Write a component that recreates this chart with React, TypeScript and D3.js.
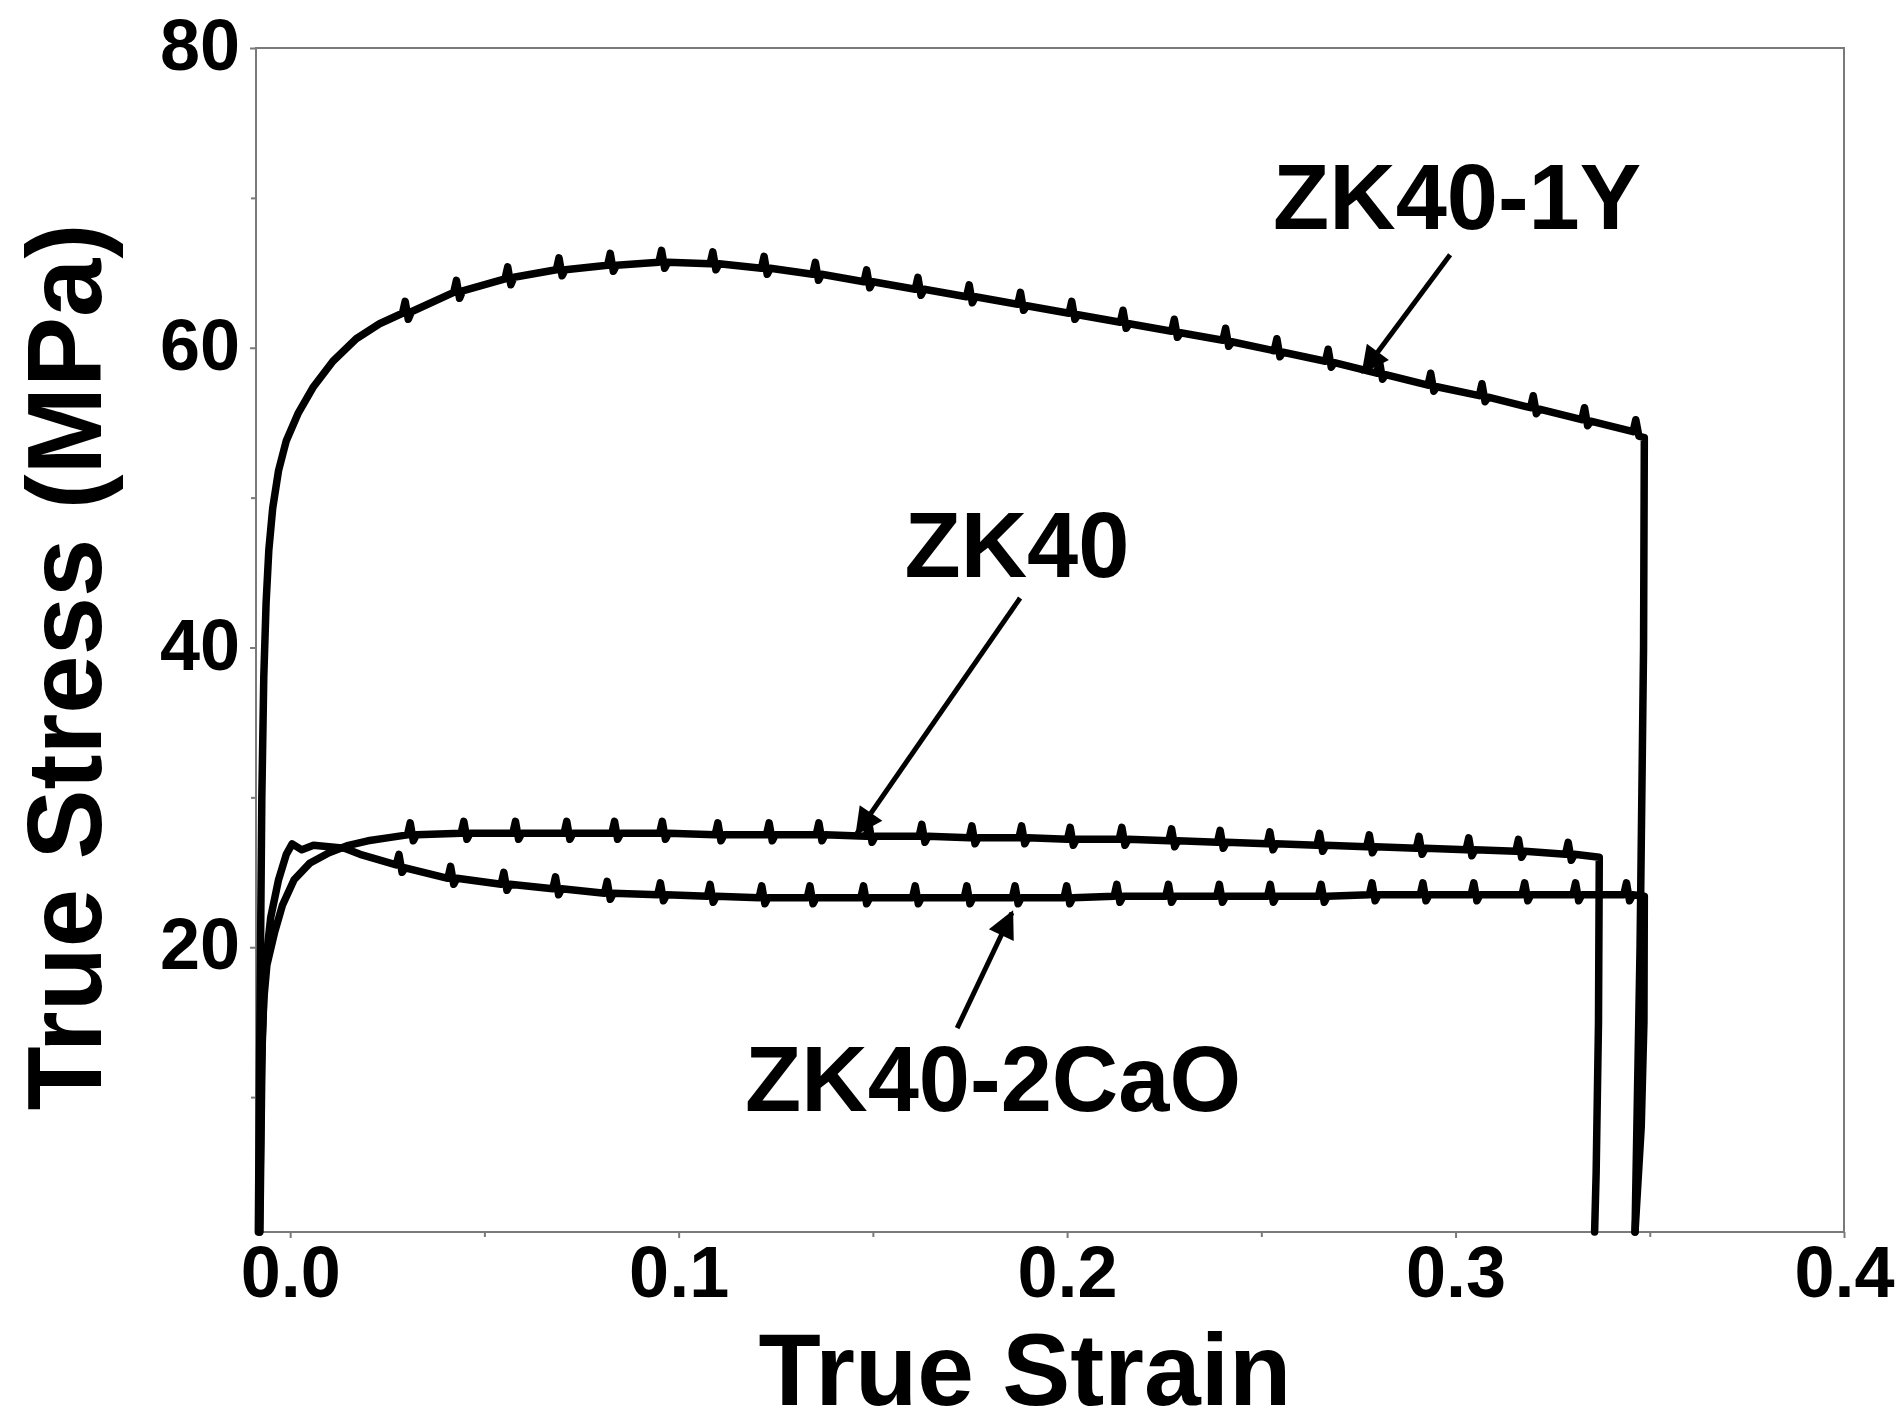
import React from 'react';
import * as d3 from 'd3';

// tick values
const xTicks = [0, 0.1, 0.2, 0.3, 0.4];
const xMinor = [0.05, 0.15, 0.25, 0.35];
const yTicks = [20, 40, 60, 80];
const yMinor = [10, 30, 50, 70];

// [true strain, true stress MPa] (serrations included)
const zk40_1Y = [
  [-0.0082, 1], [-0.0078, 15], [-0.0073, 30], [-0.0068, 38], [-0.0062, 43], [-0.0055, 46.5],
  [-0.0045, 49.3], [-0.003, 51.8], [-0.001, 53.8], [0.002, 55.6], [0.006, 57.4], [0.011, 59.1],
  [0.017, 60.6], [0.023, 61.6],
  [0.0289, 62.3], [0.0296, 63.1], [0.0304, 61.9], [0.0312, 62.4],
  [0.0421, 63.7], [0.0428, 64.5], [0.0436, 63.3], [0.0444, 63.8],
  [0.0553, 64.6], [0.056, 65.4], [0.0568, 64.2], [0.0576, 64.7],
  [0.0685, 65.2], [0.0692, 66.0], [0.07, 64.8], [0.0708, 65.2],
  [0.0817, 65.5], [0.0824, 66.3], [0.0832, 65.1], [0.084, 65.5],
  [0.0949, 65.7], [0.0956, 66.5], [0.0964, 65.3], [0.0972, 65.7],
  [0.1081, 65.6], [0.1088, 66.4], [0.1096, 65.2], [0.1104, 65.6],
  [0.1213, 65.3], [0.122, 66.1], [0.1228, 64.9], [0.1236, 65.3],
  [0.1345, 64.9], [0.1352, 65.7], [0.136, 64.5], [0.1368, 64.9],
  [0.1477, 64.4], [0.1484, 65.2], [0.1492, 64.0], [0.15, 64.4],
  [0.1609, 63.9], [0.1616, 64.7], [0.1624, 63.5], [0.1632, 63.9],
  [0.1741, 63.4], [0.1748, 64.2], [0.1756, 63.0], [0.1764, 63.4],
  [0.1873, 62.9], [0.188, 63.7], [0.1888, 62.5], [0.1896, 62.8],
  [0.2005, 62.3], [0.2012, 63.1], [0.202, 61.9], [0.2028, 62.2],
  [0.2137, 61.7], [0.2144, 62.5], [0.2152, 61.3], [0.216, 61.6],
  [0.2269, 61.1], [0.2276, 61.9], [0.2284, 60.7], [0.2292, 61.0],
  [0.2401, 60.5], [0.2408, 61.3], [0.2416, 60.1], [0.2424, 60.4],
  [0.2533, 59.8], [0.254, 60.6], [0.2548, 59.4], [0.2556, 59.7],
  [0.2665, 59.1], [0.2672, 59.9], [0.268, 58.7], [0.2688, 59.0],
  [0.2797, 58.3], [0.2804, 59.1], [0.2812, 57.9], [0.282, 58.2],
  [0.2929, 57.5], [0.2936, 58.3], [0.2944, 57.1], [0.2952, 57.4],
  [0.3061, 56.8], [0.3068, 57.6], [0.3076, 56.4], [0.3084, 56.7],
  [0.3193, 56.0], [0.32, 56.8], [0.3208, 55.6], [0.3216, 55.9],
  [0.3325, 55.2], [0.3332, 56.0], [0.334, 54.8], [0.3348, 55.1],
  [0.3457, 54.4], [0.3464, 55.2], [0.3472, 54.1], [0.3486, 54.0],
  [0.3484, 40], [0.3475, 20], [0.3462, 1],
];

const zk40 = [
  [-0.0079, 1], [-0.0074, 12], [-0.0068, 16.5], [-0.006, 18.8], [-0.004, 21], [-0.002, 22.8],
  [0.001, 24.5], [0.005, 25.6], [0.01, 26.3], [0.015, 26.8], [0.02, 27.1], [0.025, 27.3],
  [0.0302, 27.5], [0.0309, 28.3], [0.0317, 27.1], [0.0325, 27.5],
  [0.044, 27.6], [0.0447, 28.4], [0.0455, 27.2], [0.0463, 27.6],
  [0.0573, 27.6], [0.058, 28.4], [0.0588, 27.2], [0.0596, 27.6],
  [0.0705, 27.6], [0.0712, 28.4], [0.072, 27.2], [0.0728, 27.6],
  [0.0828, 27.6], [0.0835, 28.4], [0.0843, 27.2], [0.0851, 27.6],
  [0.0951, 27.6], [0.0958, 28.4], [0.0966, 27.2], [0.0974, 27.6],
  [0.1094, 27.5], [0.1101, 28.3], [0.1109, 27.1], [0.1117, 27.5],
  [0.1226, 27.5], [0.1233, 28.3], [0.1241, 27.1], [0.1249, 27.5],
  [0.1354, 27.5], [0.1361, 28.3], [0.1369, 27.1], [0.1377, 27.5],
  [0.1483, 27.4], [0.149, 28.2], [0.1498, 27.0], [0.1506, 27.4],
  [0.1619, 27.4], [0.1626, 28.2], [0.1634, 27.0], [0.1642, 27.4],
  [0.1748, 27.3], [0.1755, 28.1], [0.1763, 26.9], [0.1771, 27.3],
  [0.1876, 27.3], [0.1883, 28.1], [0.1891, 26.9], [0.1899, 27.3],
  [0.2001, 27.2], [0.2008, 28.0], [0.2016, 26.8], [0.2024, 27.2],
  [0.2134, 27.2], [0.2141, 28.0], [0.2149, 26.8], [0.2157, 27.2],
  [0.2262, 27.1], [0.2269, 27.9], [0.2277, 26.7], [0.2285, 27.1],
  [0.2387, 27.0], [0.2394, 27.8], [0.2402, 26.6], [0.241, 27.0],
  [0.2515, 26.9], [0.2522, 27.7], [0.253, 26.5], [0.2538, 26.9],
  [0.2643, 26.8], [0.265, 27.6], [0.2658, 26.4], [0.2666, 26.8],
  [0.2771, 26.7], [0.2778, 27.5], [0.2786, 26.3], [0.2794, 26.7],
  [0.2899, 26.6], [0.2906, 27.4], [0.2914, 26.2], [0.2922, 26.6],
  [0.3027, 26.5], [0.3034, 27.3], [0.3042, 26.1], [0.305, 26.5],
  [0.3155, 26.4], [0.3162, 27.2], [0.317, 26.0], [0.3178, 26.4],
  [0.3283, 26.2], [0.329, 27.0], [0.3298, 25.8], [0.3306, 26.2],
  [0.337, 26.0], [0.3368, 15], [0.3362, 5], [0.3358, 1],
];

const zk40_2CaO = [
  [-0.0078, 1], [-0.0072, 14], [-0.0065, 18.5], [-0.005, 22], [-0.003, 24.5], [-0.001, 26.2],
  [0.0005, 26.9], [0.003, 26.5], [0.006, 26.8], [0.01, 26.7], [0.014, 26.6], [0.018, 26.2],
  [0.022, 25.9],
  [0.0273, 25.5], [0.028, 26.2], [0.0288, 25.0], [0.0296, 25.3],
  [0.0406, 24.6], [0.0413, 25.4], [0.0421, 24.2], [0.0429, 24.6],
  [0.0543, 24.2], [0.055, 25.0], [0.0558, 23.8], [0.0566, 24.2],
  [0.0676, 23.9], [0.0683, 24.7], [0.0691, 23.5], [0.0699, 23.9],
  [0.0809, 23.6], [0.0816, 24.4], [0.0824, 23.2], [0.0832, 23.6],
  [0.0946, 23.5], [0.0953, 24.3], [0.0961, 23.1], [0.0969, 23.5],
  [0.1074, 23.4], [0.1081, 24.2], [0.1089, 23.0], [0.1097, 23.4],
  [0.1207, 23.3], [0.1214, 24.1], [0.1222, 22.9], [0.123, 23.3],
  [0.1331, 23.3], [0.1338, 24.1], [0.1346, 22.9], [0.1354, 23.3],
  [0.1469, 23.3], [0.1476, 24.1], [0.1484, 22.9], [0.1492, 23.3],
  [0.1602, 23.3], [0.1609, 24.1], [0.1617, 22.9], [0.1625, 23.3],
  [0.1735, 23.3], [0.1742, 24.1], [0.175, 22.9], [0.1758, 23.3],
  [0.1859, 23.3], [0.1866, 24.1], [0.1874, 22.9], [0.1882, 23.3],
  [0.1992, 23.3], [0.1999, 24.1], [0.2007, 22.9], [0.2015, 23.3],
  [0.2121, 23.4], [0.2128, 24.2], [0.2136, 23.0], [0.2144, 23.4],
  [0.2254, 23.4], [0.2261, 24.2], [0.2269, 23.0], [0.2277, 23.4],
  [0.2385, 23.4], [0.2392, 24.2], [0.24, 23.0], [0.2408, 23.4],
  [0.2516, 23.4], [0.2523, 24.2], [0.2531, 23.0], [0.2539, 23.4],
  [0.2647, 23.4], [0.2654, 24.2], [0.2662, 23.0], [0.267, 23.4],
  [0.2778, 23.5], [0.2785, 24.3], [0.2793, 23.1], [0.2801, 23.5],
  [0.2909, 23.5], [0.2916, 24.3], [0.2924, 23.1], [0.2932, 23.5],
  [0.304, 23.5], [0.3047, 24.3], [0.3055, 23.1], [0.3063, 23.5],
  [0.3171, 23.5], [0.3178, 24.3], [0.3186, 23.1], [0.3194, 23.5],
  [0.3302, 23.5], [0.3309, 24.3], [0.3317, 23.1], [0.3325, 23.5],
  [0.3433, 23.5], [0.344, 24.3], [0.3448, 23.1], [0.3456, 23.5],
  [0.3486, 23.4], [0.3485, 15], [0.3478, 8], [0.3462, 1],
];

// annotations: label anchor [strain, stress], arrow tail -> tip
const labels = [
  { text: 'ZK40-1Y', at: [0.3004, 67.9], anchor: 'middle', tail: [0.2986, 66.2], tip: [0.2762, 58.4] },
  { text: 'ZK40', at: [0.1871, 44.7], anchor: 'middle', tail: [0.1879, 43.3], tip: [0.1459, 27.6] },
  { text: 'ZK40-2CaO', at: [0.1171, 9.1], anchor: 'start', tail: [0.1717, 14.6], tip: [0.1858, 22.3] },
];

const FONT = '"Liberation Sans", Arial, Helvetica, sans-serif';

const App = () => {
  const ref = React.useRef(null);

  React.useEffect(() => {
    const svg = d3.select(ref.current);
    svg.selectAll('*').remove();

    const left = 256, right = 1844, top = 48, bottom = 1232;

    const x = d3.scaleLinear().domain([-0.0088, 0.4]).range([left, right]);
    const y = d3.scaleLinear().domain([1, 80]).range([bottom, top]);

    svg.append('rect')
      .attr('width', 1902).attr('height', 1427).attr('fill', '#fff');

    const frameColor = '#7a7a7a';

    // x axis
    const gx = svg.append('g').attr('transform', `translate(0,${bottom})`);
    gx.call(d3.axisBottom(x).tickValues(xMinor).tickSize(5).tickFormat(() => ''));
    gx.select('.domain').remove();
    const gx2 = svg.append('g').attr('transform', `translate(0,${bottom})`);
    gx2.call(d3.axisBottom(x).tickValues(xTicks).tickSize(6).tickPadding(8).tickFormat(d3.format('.1f')));
    gx2.select('.domain').remove();

    // y axis
    const gy = svg.append('g').attr('transform', `translate(${left},0)`);
    gy.call(d3.axisLeft(y).tickValues(yMinor).tickSize(5).tickFormat(() => ''));
    gy.select('.domain').remove();
    const gy2 = svg.append('g').attr('transform', `translate(${left},0)`);
    gy2.call(d3.axisLeft(y).tickValues(yTicks).tickSize(6).tickPadding(10));
    gy2.select('.domain').remove();
    gy2.selectAll('text').attr('dy', '0.3em');

    svg.selectAll('.tick line').attr('stroke', frameColor).attr('stroke-width', 2);
    svg.selectAll('.tick text')
      .attr('fill', '#000')
      .style('font-family', FONT)
      .style('font-weight', 'bold')
      .style('font-size', '72px');

    // frame
    svg.append('rect')
      .attr('x', left).attr('y', top)
      .attr('width', right - left).attr('height', bottom - top)
      .attr('fill', 'none').attr('stroke', frameColor).attr('stroke-width', 2);

    // curves
    const line = d3.line().x((d) => x(d[0])).y((d) => y(d[1]));
    [zk40_1Y, zk40, zk40_2CaO].forEach((data) => {
      svg.append('path')
        .attr('d', line(data))
        .attr('fill', 'none')
        .attr('stroke', '#000')
        .attr('stroke-width', 7.5)
        .attr('stroke-linejoin', 'round')
        .attr('stroke-linecap', 'round');
    });

    // arrow heads
    svg.append('defs').append('marker')
      .attr('id', 'arrow')
      .attr('viewBox', '0 0 10 10')
      .attr('refX', 9).attr('refY', 5)
      .attr('markerWidth', 8).attr('markerHeight', 5.5)
      .attr('markerUnits', 'strokeWidth')
      .attr('orient', 'auto')
      .append('path')
      .attr('d', 'M0,0 L10,5 L0,10 Z')
      .attr('fill', '#000');

    labels.forEach((l) => {
      svg.append('line')
        .attr('x1', x(l.tail[0])).attr('y1', y(l.tail[1]))
        .attr('x2', x(l.tip[0])).attr('y2', y(l.tip[1]))
        .attr('stroke', '#000')
        .attr('stroke-width', 5)
        .attr('marker-end', 'url(#arrow)');
      svg.append('text')
        .attr('x', x(l.at[0])).attr('y', y(l.at[1]))
        .attr('text-anchor', l.anchor)
        .style('font-family', FONT)
        .style('font-weight', 'bold')
        .style('font-size', '92px')
        .text(l.text);
    });

    // axis titles
    svg.append('text')
      .attr('x', 1025).attr('y', 1405)
      .attr('text-anchor', 'middle')
      .style('font-family', FONT)
      .style('font-weight', 'bold')
      .style('font-size', '102px')
      .text('True Strain');

    svg.append('text')
      .attr('transform', 'translate(101,667) rotate(-90)')
      .attr('text-anchor', 'middle')
      .style('font-family', FONT)
      .style('font-weight', 'bold')
      .style('font-size', '105px')
      .text('True Stress (MPa)');
  }, []);

  return (
    <svg
      ref={ref}
      width={1902}
      height={1427}
      style={{ position: 'absolute', left: 0, top: 0, display: 'block' }}
    />
  );
};

export default App;
